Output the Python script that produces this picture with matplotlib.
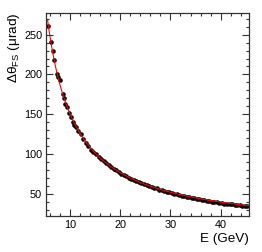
import matplotlib
matplotlib.use("Agg")
import matplotlib.pyplot as plt
from matplotlib.ticker import MultipleLocator

plt.rcParams["font.family"] = ["Liberation Sans", "DejaVu Sans"]
plt.rcParams["mathtext.default"] = "regular"

energy = [5.75, 6.25, 6.6, 6.95, 7.4, 7.75, 8.1, 8.6, 8.9, 9.15, 9.4, 9.9,
          10.2, 10.6, 10.85, 11.25, 11.7, 12.2, 12.7, 13.2, 13.7, 14.2, 14.7,
          15.25, 15.75, 16.25, 16.75, 17.25, 17.75, 18.25, 18.75, 19.25,
          19.75, 20.25, 20.75, 21.25, 21.75, 22.25, 22.75, 23.25, 23.75,
          24.25, 24.75, 25.25, 25.75, 26.25, 26.75, 27.25, 27.75, 28.25,
          28.75, 29.25, 29.75, 30.25, 30.75, 31.25, 31.75, 32.25, 32.75,
          33.25, 33.75, 34.25, 34.75, 35.25, 35.75, 36.25, 36.75, 37.25,
          37.75, 38.25, 38.75, 39.25, 39.75, 40.25, 40.75, 41.25, 41.75,
          42.25, 42.75, 43.25, 43.75, 44.25, 44.75, 45.25]
dtheta = [261.0, 241.0, 229.5, 218.0, 200.5, 197.0, 193.0, 175.5, 170.0,
          163.5, 159.5, 151.0, 147.0, 140.5, 136.5, 133.5, 129.0, 125.0,
          118.5, 113.5, 110.0, 105.0, 102.5, 100.0, 96.0, 93.5, 91.0, 88.5,
          86.0, 83.5, 81.5, 79.5, 77.0, 75.5, 74.0, 72.5, 70.5, 69.0, 67.5,
          66.0, 64.5, 63.5, 62.5, 61.0, 60.5, 59.0, 58.0, 57.0, 55.5, 54.5,
          54.0, 53.0, 52.0, 51.5, 50.5, 49.5, 49.0, 48.0, 47.5, 46.5, 46.0,
          45.5, 44.5, 44.0, 43.5, 42.5, 42.0, 41.5, 41.0, 40.5, 40.0, 39.5,
          39.0, 38.5, 38.0, 37.5, 37.5, 37.0, 36.5, 36.0, 36.0, 35.5, 35.0,
          34.5]

# fitted curve (red)
fit_energy = [5.6, 6.0, 6.5, 7.0, 7.5, 8.0, 8.5, 9.0, 9.5, 10.0, 11.0, 12.0,
              13.0, 14.0, 15.0, 16.0, 17.0, 18.0, 19.0, 20.0, 22.0, 24.0,
              26.0, 28.0, 30.0, 32.0, 34.0, 36.0, 38.0, 40.0, 42.0, 44.0,
              45.6]
fit_dtheta = [267.6, 250.0, 231.0, 214.6, 200.5, 188.2, 177.2, 167.5, 158.9,
              151.1, 137.6, 126.3, 116.8, 108.7, 101.6, 95.4, 90.0, 85.1,
              80.8, 76.9, 70.1, 64.5, 59.8, 55.7, 52.2, 49.1, 46.3, 43.9,
              41.7, 39.8, 38.0, 36.4, 35.2]

fig = plt.figure(figsize=(2.62, 2.52), dpi=100)
ax = fig.add_axes([0.177, 0.143, 0.773, 0.805])

ax.plot(energy, dtheta, "o", color="black", ms=3.3, mew=0, zorder=2)
ax.plot(fit_energy, fit_dtheta, color="red", lw=0.8, zorder=3)

ax.set_xlim(5.35, 45.6)
ax.set_ylim(22.4, 277.0)
ax.xaxis.set_major_locator(MultipleLocator(10))
ax.xaxis.set_minor_locator(MultipleLocator(2))
ax.yaxis.set_major_locator(MultipleLocator(50))
ax.yaxis.set_minor_locator(MultipleLocator(10))
ax.tick_params(which="both", direction="in", top=True, right=True,
               labelsize=7.8, pad=3, width=0.8, color="#333333")
ax.tick_params(which="major", length=5)
ax.tick_params(which="minor", length=2.5)
for s in ax.spines.values():
    s.set_linewidth(0.9)
    s.set_color("#333333")

fig.text(14 / 262, 1 - 13 / 252, "Δθ$_{FS}$ (μrad)", rotation=90,
         ha="center", va="top", fontsize=9.7)
fig.text(249 / 262, 1 - 239 / 252, "E (GeV)", ha="right", va="center",
         fontsize=9.7)

fig.savefig("out.png", dpi=100)
